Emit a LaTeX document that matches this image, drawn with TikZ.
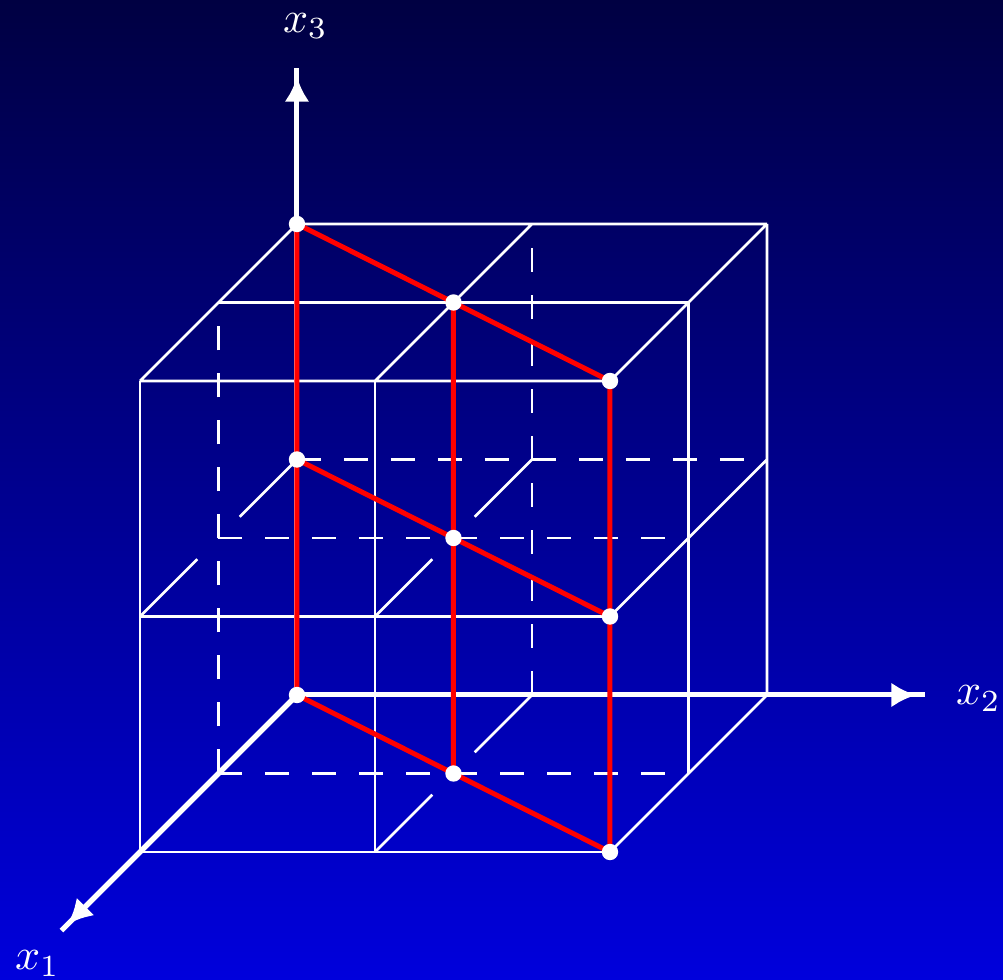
\documentclass[tikz,border=0pt]{standalone}
\usetikzlibrary{arrows.meta}
\definecolor{bgtop}{RGB}{0,0,66}
\definecolor{bgbot}{RGB}{0,0,220}
\begin{document}
\begin{tikzpicture}[x={(-39.25pt,-39.25pt)}, y={(117.5pt,0pt)}, z={(0pt,117.75pt)},
  gridline/.style={white, line width=1.3pt},
  hidden/.style={white, line width=1.3pt, dash pattern=on 12pt off 11.5pt},
  axis/.style={white, line width=2.5pt,
    postaction={draw, white, line width=2.5pt, -{Latex[length=12.5pt,width=12.5pt]}, shorten >=4.3pt}},
  plane/.style={red, line width=2.5pt},
  dot/.style={circle, fill=white, inner sep=0pt, minimum size=8.2pt},
  lbl/.style={text=white, scale=2.2, inner sep=0pt}]
\useasboundingbox (-148.5pt,-142.5pt) rectangle (353pt,347.5pt);
\shade[top color=bgtop, bottom color=bgbot] (-148.5pt,-142.5pt) rectangle (353pt,347.5pt);
% lattice points
\foreach \i in {0,1,2}{\foreach \j in {0,1,2}{\foreach \k in {0,1,2}{
  \coordinate (p\i\j\k) at (\i,\j,\k);}}}
% ends of the broken edges
\coordinate (a01) at (0.73,0,1); \coordinate (b01) at (1.27,0,1);
\coordinate (a11) at (0.73,1,1); \coordinate (b11) at (1.27,1,1);
\coordinate (a10) at (0.73,1,0); \coordinate (b10) at (1.27,1,0);
% axis ends
\coordinate (T1) at (3,0,0);
\coordinate (T2) at (0,2.672,0);
\coordinate (T3) at (0,0,2.662);
% visible grid: top face
\draw[gridline] (p002) -- (p022) (p102) -- (p122) (p202) -- (p222)
  (p002) -- (p202) (p012) -- (p212) (p022) -- (p222);
% front face
\draw[gridline] (p200) -- (p202) (p210) -- (p212) (p220) -- (p222)
  (p200) -- (p220) (p201) -- (p221);
% right face
\draw[gridline] (p020) -- (p022) (p120) -- (p122)
  (p021) -- (p221) (p020) -- (p220);
% broken edges
\draw[gridline] (p001) -- (a01) (b01) -- (p201)
  (p011) -- (a11) (b11) -- (p211)
  (p010) -- (a10) (b10) -- (p210);
% hidden lines
\draw[hidden] (p100) -- (p102) (p010) -- (p012)
  (p001) -- (p021) (p101) -- (p121) (p100) -- (p120);
% axes
\draw[axis] (p000) -- (T1);
\draw[axis] (p000) -- (T2);
\draw[axis] (p000) -- (T3);
\node[lbl] (L1) at (-129.75pt,-134.25pt) {$x_1$};
\node[lbl] (L2) at (340.75pt,-1.75pt) {$x_2$};
\node[lbl] (L3) at (4.25pt,334.5pt) {$x_3$};
% the plane x1 = x2
\draw[plane] (p000) -- (p002) (p110) -- (p112) (p220) -- (p222)
  (p000) -- (p220) (p001) -- (p221) (p002) -- (p222);
\foreach \i in {0,1,2}{\foreach \k in {0,1,2}{
  \node[dot] (d\i\k) at (p\i\i\k) {};}}
\end{tikzpicture}
\end{document}
